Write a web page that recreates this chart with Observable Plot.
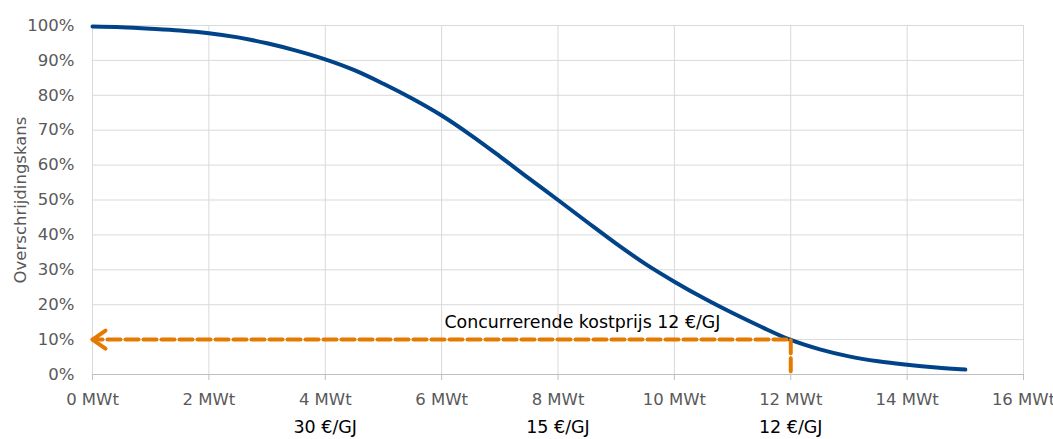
<!DOCTYPE html>
<html>
<head>
<meta charset="utf-8">
<script src="https://cdn.jsdelivr.net/npm/d3@7"></script>
<script src="https://cdn.jsdelivr.net/npm/@observablehq/plot@0.6"></script>
<style>
  html, body { margin: 0; padding: 0; background: #fff; }
  #chart svg { display: block; }
</style>
</head>
<body>
<div id="chart"></div>
<script>
// Vermogen (MWt) en overschrijdingskans (%) gelezen uit de grafiek
const mwt  = [0, 0.5, 1, 1.5, 2, 2.5, 3, 3.5, 4, 4.5, 5, 5.5, 6, 6.5, 7, 7.5, 8, 8.5, 9, 9.5, 10, 10.5, 11, 11.5, 12, 12.5, 13, 13.5, 14, 14.5, 15];
const kans = [99.7, 99.5, 99.1, 98.6, 97.8, 96.6, 94.9, 92.8, 90.3, 87.2, 83.3, 79.0, 74.2, 68.6, 62.5, 56.2, 50.0, 43.7, 37.5, 31.7, 26.6, 21.9, 17.6, 13.6, 9.9, 7.2, 5.2, 3.8, 2.8, 2.0, 1.4];

// Assen
const xTicks = [0, 2, 4, 6, 8, 10, 12, 14, 16];
const yTicks = [0, 10, 20, 30, 40, 50, 60, 70, 80, 90, 100];

// Kostprijs-labels onder de x-as
const priceX = [4, 8, 12];
const priceLabels = ["30 €/GJ", "15 €/GJ", "12 €/GJ"];

// Concurrerende kostprijs: hulplijn (van onder via 12 MWt naar links)
const guideX = [12, 12, 0];
const guideY = [0.9, 10, 10];
const annotationText = ["Concurrerende kostprijs 12 €/GJ"];
const annotationX = [8.42];
const annotationY = [14.9];

const yLabel = ["Overschrijdingskans"];

const blue = "#004388";
const orange = "#E57A00";
const grid = "#d9d9d9";

// chevron arrowhead symbol (open "<")
const chevron = {
  draw(context) {
    context.moveTo(13, -9);
    context.lineTo(0, 0);
    context.lineTo(13, 9);
  }
};

const chart = Plot.plot({
  width: 1053,
  height: 439,
  marginLeft: 92,
  marginRight: 30,
  marginTop: 25,
  marginBottom: 65,
  x: { domain: [0, 16] },
  y: { domain: [0, 100] },
  style: { fontFamily: "DejaVu Sans", fontSize: "16.5px", color: "#595959", background: "#fff", overflow: "visible" },
  marks: [
    Plot.ruleX(xTicks, { stroke: grid, strokeWidth: 1 }),
    Plot.ruleY(yTicks.filter(v => v > 0), { stroke: grid, strokeWidth: 1 }),
    Plot.ruleY([0], { stroke: "#bfbfbf", strokeWidth: 1 }),
    Plot.axisX({ ticks: xTicks, tickFormat: d => `${d} MWt`, tickSize: 6, tickPadding: 13, stroke: "#bfbfbf", fill: "#595959", label: null }),
    Plot.axisY({ ticks: yTicks, tickFormat: d => `${d}%`, tickSize: 0, tickPadding: 18, fill: "#595959", label: null }),
    Plot.text(yLabel, { frameAnchor: "left", textAnchor: "middle", rotate: -90, dx: -72, fill: "#595959", fontSize: 16.5 }),
    Plot.line(kans, { x: mwt, y: kans, stroke: blue, strokeWidth: 4, curve: "catmull-rom", strokeLinecap: "round" }),
    Plot.line(guideY, { x: guideX, y: guideY, stroke: orange, strokeWidth: 4, strokeDasharray: "13,5" }),
    Plot.dot([guideY[2]], { x: [guideX[2]], y: [guideY[2]], symbol: chevron, fill: "none", stroke: orange, strokeWidth: 4, strokeLinecap: "round", strokeLinejoin: "round" }),
    Plot.text(annotationText, { x: annotationX, y: annotationY, fill: "#000", fontSize: 17.4, textAnchor: "middle" }),
    Plot.text(priceLabels, { x: priceX, y: priceX.map(() => 0), dy: 53, fill: "#000", fontSize: 17.5 })
  ]
});

document.getElementById("chart").appendChild(chart);
</script>
</body>
</html>
